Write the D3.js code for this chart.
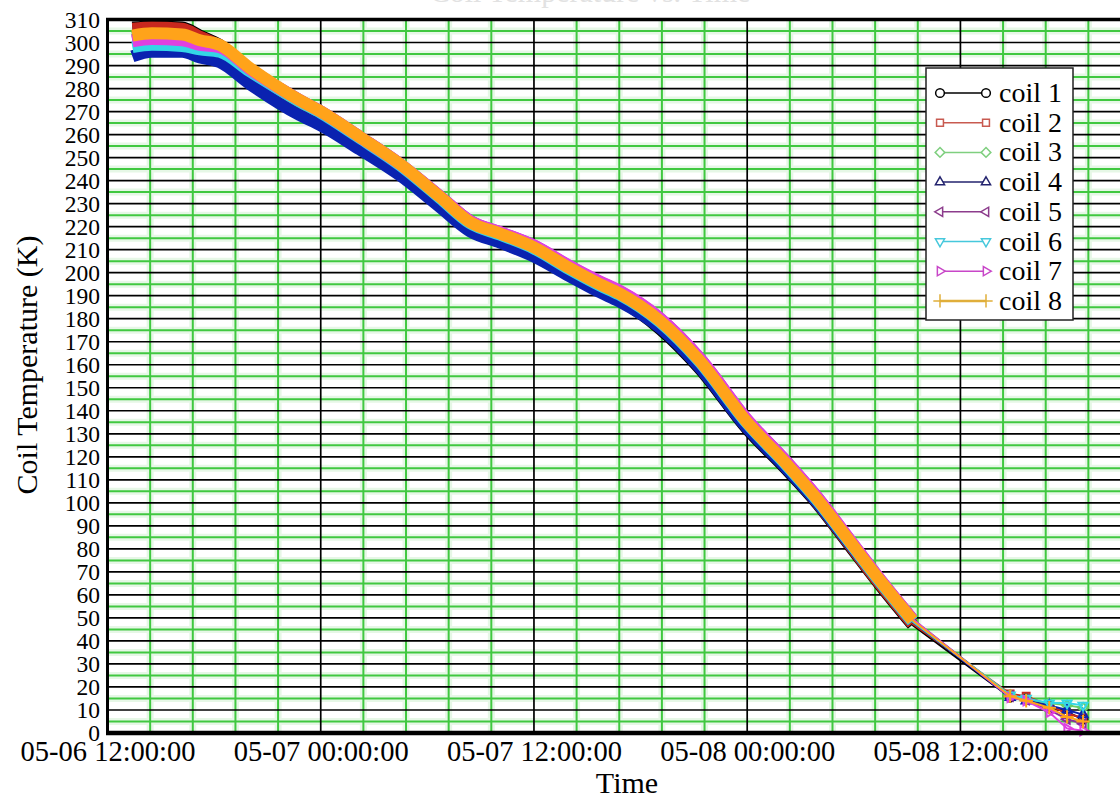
<!DOCTYPE html>
<html><head><meta charset="utf-8">
<script src="https://cdn.jsdelivr.net/npm/d3@7"></script>
<style>
body{margin:0;background:#fff}
svg{display:block}
text{font-family:"Liberation Serif","Times New Roman",serif;fill:#000}
</style>
</head><body>
<svg id="chart" width="1120" height="798"></svg>
<script>
// ---------- DATA ----------
const times = ["05-06 13:24","05-06 14:30","05-06 16:12","05-06 17:12","05-06 18:18","05-06 20:00","05-06 22:48",
  "05-07 00:00","05-07 02:12","05-07 04:30","05-07 06:42","05-07 08:24","05-07 10:06","05-07 12:00","05-07 14:00",
  "05-07 15:42","05-07 16:48","05-07 19:06","05-07 21:18","05-08 00:00","05-08 02:12","05-08 03:54","05-08 05:48",
  "05-08 07:30","05-08 09:18","05-08 14:48","05-08 15:42","05-08 17:00","05-08 18:00","05-08 18:54"];
const coil1 = [306.5,307,306.5,303,299,286,270.5,265.5,254.5,243,229.5,219,214,208,199,192,188,175.5,158.5,132,114.5,100,81,64,47,15.5,15,11.5,9,6];
const coil2 = [306,306.5,306,302.5,298.5,286.5,272,267,256,244,230.5,219.5,214.5,208.5,199.5,192.5,188.5,176.5,159.5,133,115.5,100.5,81.5,64.5,47.5,17,16,12,8.5,6.5];
const coil3 = [302,303,302.5,300,298,288,274,269,258,246,232,221,216,210,201,194,190,178,161,134.5,116.5,101.5,83,66,49,16.5,14.5,13,12,11];
const coil4 = [294,296,296,293.5,291.5,282,268.5,264,253.5,242,228.5,218,213,207,198.5,191.5,187.5,176,159,132.5,115,100.5,82,65.5,48.5,15.5,14,12,10,8];
const coil5 = [301,302,301.5,299.5,298,288.5,275,270,259,247,233.3,222.5,217.5,211.7,202.8,196,192,180,163,136,118,102.8,83.6,66.5,49.5,16,14.5,10,6,4];
const coil6 = [298,299,298.5,297,296,287.5,274.5,269.5,258.5,246.5,232.5,221.5,216.5,210.5,201.5,194.5,190.5,178.5,161.5,134.5,116.5,101.5,82.5,65.5,48.5,16.5,15,13,13,12];
const coil7 = [300.5,301.5,301,299,298,288.5,275,270,259,247,233.3,222.5,217.6,211.8,203,196.2,192.2,180.2,163.2,136.2,118,103,83.8,66.6,49.5,15.5,14,9,2,1];
const coil8 = [303,304,303.5,301,299,289,275,270,259,247,233,222,217,211,202,195,191,179,162,135,117,102,83,66,49,16,14,11,7,5];
const seriesNames = ["coil 1","coil 2","coil 3","coil 4","coil 5","coil 6","coil 7","coil 8"];
const yTickValues = d3.range(0, 311, 10);
const xTickLabels = ["05-06 12:00:00","05-07 00:00:00","05-07 12:00:00","05-08 00:00:00","05-08 12:00:00"];
const denseCount = 25; // first 25 samples are densely logged (solid band of markers)

// ---------- STYLE ----------
const colors = ["#000000","#c8281e","#66cc66","#0a22b0","#8a2a9a","#33d6e6","#e040e0","#ffa31a"];
const legendColors = ["#000000","#c85a50","#7fcf7f","#23236e","#8c3c8c","#46c8dc","#c846c8","#e0ae3a"];
const symbols = [d3.symbolCircle, d3.symbolSquare2, d3.symbolDiamond2, d3.symbolTriangle2,
                 d3.symbolTriangle2, d3.symbolTriangle2, d3.symbolTriangle2, d3.symbolPlus];
const symRot = [0,0,0,0,-90,180,90,0];

const parseT = d3.timeParse("%m-%d %H:%M");
const parseFull = d3.timeParse("%m-%d %H:%M:%S");
const allCoils = [coil1,coil2,coil3,coil4,coil5,coil6,coil7,coil8];
const series = allCoils.map((vals,i)=>({name:seriesNames[i], i, pts: vals.map((v,k)=>({t:parseT(times[k]), v}))}));

const svg = d3.select("#chart");
const L = 107.5, R = 1147, T = 19.5, B = 733;
const t0 = parseT("05-06 12:00");
const x = d3.scaleTime().domain([t0, parseT("05-08 22:30")]).range([L, R]);
const y = d3.scaleLinear().domain([0, 310]).range([B, T]);

svg.append("rect").attr("width",1120).attr("height",798).attr("fill","#fff");

// grid
const g = svg.append("g");
const nMinor = Math.floor(58.5/2.4);
const vTimes = d3.range(0, nMinor+1).map(i => d3.timeMinute.offset(t0, i*144));
const hVals = d3.range(0, 311, 5);
g.selectAll(".vh").data(vTimes.filter((d,i)=>i%5!==0)).join("line")
  .attr("x1",d=>x(d)).attr("x2",d=>x(d)).attr("y1",T).attr("y2",B)
  .attr("stroke","#e6f7e6").attr("stroke-width",7);
g.selectAll(".hh").data(hVals.filter(v=>v%10!==0)).join("line")
  .attr("x1",L).attr("x2",1120).attr("y1",d=>y(d)).attr("y2",d=>y(d))
  .attr("stroke","#e6f7e6").attr("stroke-width",7);
g.selectAll(".vg").data(vTimes.filter((d,i)=>i%5!==0)).join("line")
  .attr("x1",d=>x(d)).attr("x2",d=>x(d)).attr("y1",T).attr("y2",B)
  .attr("stroke","#40c840").attr("stroke-width",2);
g.selectAll(".hg").data(hVals.filter(v=>v%10!==0)).join("line")
  .attr("x1",L).attr("x2",1120).attr("y1",d=>y(d)).attr("y2",d=>y(d))
  .attr("stroke","#40c840").attr("stroke-width",2);
g.selectAll(".hb").data(hVals.filter(v=>v%10===0)).join("line")
  .attr("x1",L).attr("x2",1120).attr("y1",d=>y(d)).attr("y2",d=>y(d))
  .attr("stroke","#000").attr("stroke-width",1.7);
g.selectAll(".vb").data(vTimes.filter((d,i)=>i%5===0)).join("line")
  .attr("x1",d=>x(d)).attr("x2",d=>x(d)).attr("y1",T).attr("y2",B)
  .attr("stroke","#000").attr("stroke-width",1.7);

// data
const lineGen = d3.line().x(d=>x(d.t)).y(d=>y(d.v)).curve(d3.curveMonotoneX);
const dg = svg.append("g");
series.forEach(s=>{
  const dense = s.pts.slice(0, denseCount);
  const sparse = s.pts.slice(denseCount-1);
  dg.append("path").attr("d", lineGen(dense)).attr("fill","none")
    .attr("stroke", colors[s.i]).attr("stroke-width", 12)
    .attr("stroke-linejoin","round").attr("stroke-linecap","butt");
  dg.append("path").attr("d", d3.line().x(d=>x(d.t)).y(d=>y(d.v))(sparse)).attr("fill","none")
    .attr("stroke", colors[s.i]).attr("stroke-width", 2);
  dg.selectAll(null).data(s.pts.slice(denseCount)).join("path")
    .attr("transform", d=>`translate(${x(d.t)},${y(d.v)}) rotate(${symRot[s.i]})`)
    .attr("d", d3.symbol().type(symbols[s.i]).size(60))
    .attr("fill","none").attr("stroke", colors[s.i]).attr("stroke-width",2);
});

// frame
svg.append("line").attr("x1",L-1.5).attr("x2",1120).attr("y1",T).attr("y2",T).attr("stroke","#000").attr("stroke-width",3.5);
svg.append("line").attr("x1",L-1.5).attr("x2",1120).attr("y1",B).attr("y2",B).attr("stroke","#000").attr("stroke-width",4.5);
svg.append("line").attr("x1",L).attr("x2",L).attr("y1",T).attr("y2",B).attr("stroke","#000").attr("stroke-width",3);

// axes
const yAxis = svg.append("g").attr("transform",`translate(${L},0)`)
  .call(d3.axisLeft(y).tickValues(yTickValues).tickSize(0).tickPadding(7.5).tickFormat(d3.format("d")));
yAxis.select(".domain").remove();
yAxis.selectAll("text").style("font-size","23.5px").attr("font-family","Liberation Serif");

const xTickDates = xTickLabels.map(s=>parseFull(s));
const xAxis = svg.append("g").attr("transform",`translate(0,${B})`)
  .call(d3.axisBottom(x).tickValues(xTickDates).tickSize(0).tickPadding(8).tickFormat(d3.timeFormat("%m-%d %H:%M:%S")));
xAxis.select(".domain").remove();
xAxis.selectAll("text").style("font-size","28.5px").attr("font-family","Liberation Serif");

// titles
svg.append("text").attr("transform","translate(37,365) rotate(-90)").attr("text-anchor","middle")
  .style("font-size","30px").text("Coil Temperature (K)");
svg.append("text").attr("x",627).attr("y",793).attr("text-anchor","middle")
  .style("font-size","30px").text("Time");
svg.append("text").attr("x",590).attr("y",2).attr("text-anchor","middle")
  .style("font-size","30px").style("fill","#e2e2e2").text("Coil Temperature vs. Time");

// legend
const lg = svg.append("g");
lg.append("rect").attr("x",926).attr("y",68).attr("width",147).attr("height",252)
  .attr("fill","#fff").attr("stroke","#222").attr("stroke-width",1.5);
seriesNames.forEach((n,i)=>{
  const ry = 93 + i*29.7;
  lg.append("line").attr("x1",940).attr("x2",986).attr("y1",ry).attr("y2",ry)
    .attr("stroke",legendColors[i]).attr("stroke-width", i===7?2.5:1.5);
  [940,986].forEach(px=>{
    lg.append("path").attr("transform",`translate(${px},${ry}) rotate(${symRot[i]})`)
      .attr("d", d3.symbol().type(symbols[i]).size(60))
      .attr("fill", i===7?"none":"#fff").attr("stroke",legendColors[i]).attr("stroke-width",1.5);
  });
  lg.append("text").attr("x",999).attr("y",ry+9).style("font-size","28px").text(n);
});
</script>
</body></html>
